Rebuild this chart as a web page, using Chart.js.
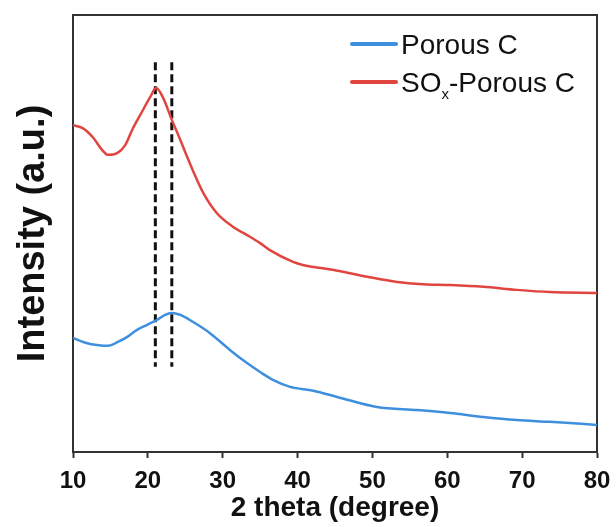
<!DOCTYPE html>
<html>
<head>
<meta charset="utf-8">
<script src="https://cdn.jsdelivr.net/npm/chart.js@4.4.1/dist/chart.umd.min.js"></script>
<style>
  body { margin: 0; background: #fff; }
  #wrap { position: relative; width: 616px; height: 527px; }
  .legend { position: absolute; font-family: "Liberation Sans", Arial, sans-serif; font-size: 28px; line-height: 28px; color: #111; white-space: nowrap; }
  .swatch { position: absolute; width: 48px; height: 4px; border-radius: 2px; }
  .legend sub { font-size: 15px; vertical-align: -7px; line-height: 0; }
</style>
</head>
<body>
<div id="wrap">
  <canvas id="chart" width="616" height="527"></canvas>
  <div class="swatch" style="left:350px; top:42px; background:#3f8fdf;"></div>
  <div class="legend" style="left:401px; top:31px;">Porous C</div>
  <div class="swatch" style="left:350px; top:80px; background:#e0463f;"></div>
  <div class="legend" style="left:401px; top:69px;">SO<sub>x</sub>-Porous C</div>
</div>
<script>
// 2 theta positions (degree) and intensities (a.u.)
const porousX = [10, 11.9, 13.2, 14.7, 16.0, 17.2, 18.5, 19.9, 21.2, 22.3, 23.2, 24.3, 26.0, 28.3, 31.0, 33.2, 35.0, 36.7, 39.0, 42.1, 45.3, 50.6, 56.0, 60.4, 64.8, 69.3, 73.7, 80];
const porousY = [26.1, 24.9, 24.5, 24.3, 25.2, 26.3, 27.9, 29.1, 30.2, 31.4, 31.8, 31.4, 29.8, 27.2, 23.3, 20.4, 18.3, 16.5, 14.9, 14.0, 12.6, 10.3, 9.6, 8.9, 8.0, 7.3, 6.9, 6.2];

const soxX = [10, 11.3, 12.7, 13.9, 14.7, 15.9, 17.0, 17.9, 19.2, 20.3, 21.1, 22.0, 23.2, 24.0, 25.0, 26.0, 27.4, 29.2, 31.4, 33.2, 35.0, 36.3, 39.4, 40.7, 44.7, 49.3, 53.3, 56.8, 60.4, 64.8, 69.3, 73.7, 80];
const soxY = [74.8, 74.1, 71.9, 69.1, 68.0, 68.4, 70.3, 73.7, 77.8, 81.2, 83.3, 81.2, 76.0, 72.8, 68.6, 64.5, 59.3, 54.7, 51.5, 49.7, 47.8, 46.2, 43.5, 42.8, 41.7, 40.1, 38.9, 38.4, 38.2, 37.8, 37.1, 36.6, 36.4];

// reference peak markers
const markerX = [21.0, 23.2];
const markerY = [89.2, 19.5];

const xTicks = [10, 20, 30, 40, 50, 60, 70, 80];

const toPoints = (xs, ys) => xs.map((x, i) => ({ x: x, y: ys[i] }));

const datasets = [
  {
    label: "Porous C",
    data: toPoints(porousX, porousY),
    borderColor: "#3f8fdf",
    borderWidth: 2.5,
    pointRadius: 0,
    cubicInterpolationMode: "monotone",
  },
  {
    label: "SOx-Porous C",
    data: toPoints(soxX, soxY),
    borderColor: "#e0463f",
    borderWidth: 2.5,
    pointRadius: 0,
    cubicInterpolationMode: "monotone",
  },
];
markerX.forEach((mx) => {
  datasets.push({
    label: "",
    data: [{ x: mx, y: markerY[0] }, { x: mx, y: markerY[1] }],
    borderColor: "#111",
    borderWidth: 3,
    borderDash: [8, 4],
    pointRadius: 0,
  });
});

const boxAxis = (pos, axis) => ({
  type: "linear",
  position: pos,
  axis: axis,
  display: true,
  ticks: { display: false },
  grid: { drawOnChartArea: false, drawTicks: false },
  border: { display: true, color: "#333", width: 2 },
  afterFit: (s) => {
    if (axis === "x") s.height = 0;
    else s.width = 0;
    s.paddingLeft = s.paddingRight = s.paddingTop = s.paddingBottom = 0;
  },
});

new Chart(document.getElementById("chart").getContext("2d"), {
  type: "line",
  data: { datasets: datasets },
  options: {
    responsive: false,
    animation: false,
    layout: { padding: { left: 0, right: 19, top: 15, bottom: 0 } },
    plugins: { legend: { display: false }, tooltip: { enabled: false } },
    scales: {
      x: {
        type: "linear",
        min: 10,
        max: 80,
        afterBuildTicks: (s) => {
          s.ticks = xTicks.map((v) => ({ value: v }));
        },
        afterFit: (s) => {
          s.height = 75;
          s.paddingLeft = 0;
          s.paddingRight = 0;
        },
        ticks: {
          color: "#111",
          padding: 9,
          font: { family: "Liberation Sans", size: 24, weight: "bold" },
        },
        grid: { drawOnChartArea: false, drawTicks: true, tickLength: 6, tickWidth: 2, tickColor: "#333" },
        border: { display: true, color: "#333", width: 2 },
        title: {
          display: true,
          text: "2 theta (degree)",
          color: "#111",
          padding: { top: 2, bottom: 2 },
          font: { family: "Liberation Sans", size: 28, weight: "bold" },
        },
      },
      y: {
        type: "linear",
        min: 0,
        max: 100,
        afterFit: (s) => {
          s.width = 73;
        },
        ticks: { display: false },
        grid: { drawOnChartArea: false, drawTicks: false },
        border: { display: true, color: "#333", width: 2 },
        title: {
          display: true,
          text: "Intensity (a.u.)",
          color: "#111",
          padding: { top: 11, bottom: 0 },
          font: { family: "Liberation Sans", size: 38, weight: "bold" },
        },
      },
      xTop: boxAxis("top", "x"),
      yRight: boxAxis("right", "y"),
    },
  },
});
</script>
</body>
</html>
